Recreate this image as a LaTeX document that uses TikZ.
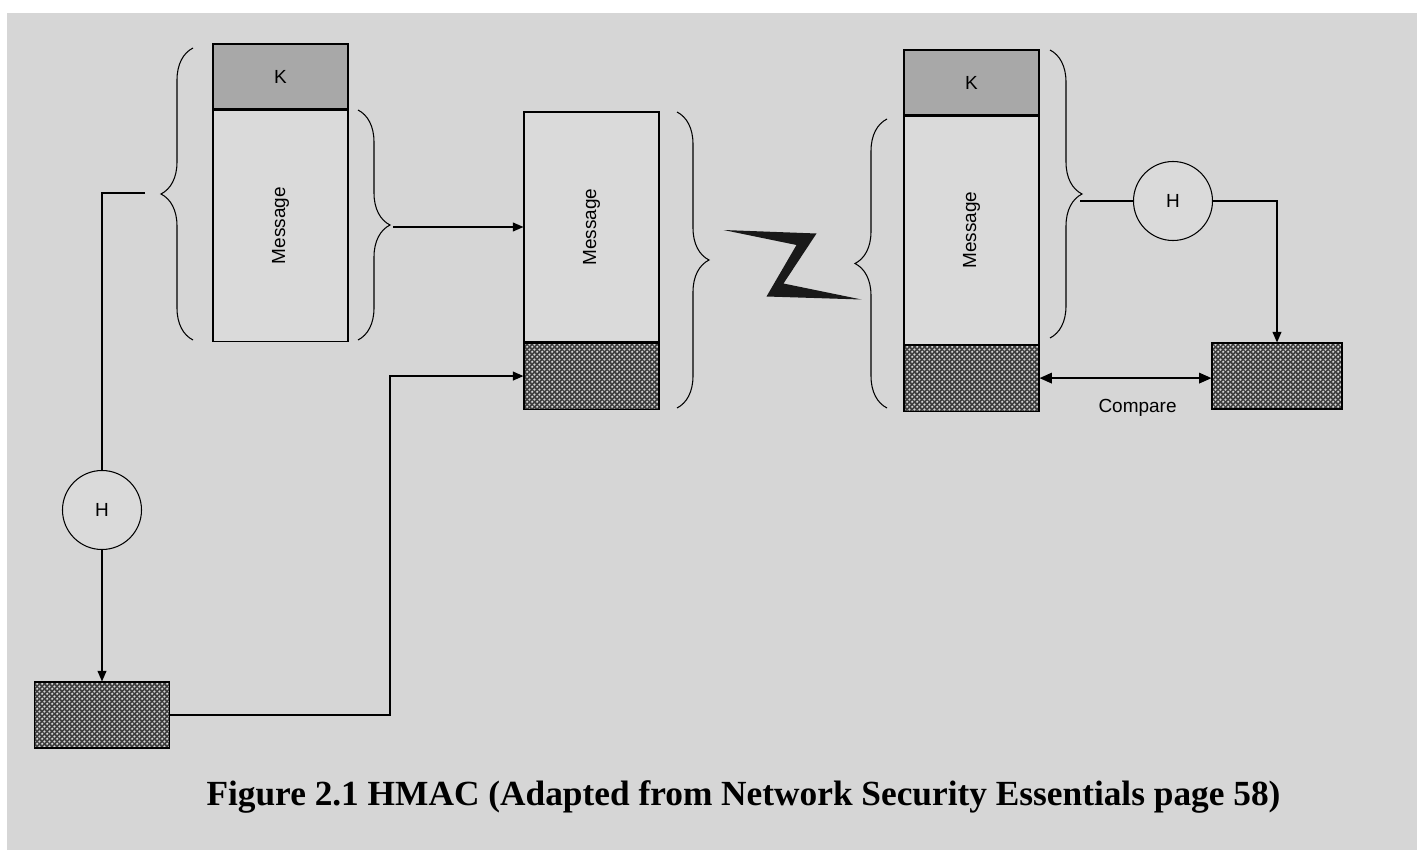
\documentclass[tikz,border=0pt]{standalone}
\usepackage{fontspec}
\setmainfont{Liberation Sans}
\newfontfamily\capfont{Liberation Serif}
\usepackage{xcolor}
\usetikzlibrary{arrows.meta, positioning, patterns, decorations.pathreplacing}

\definecolor{pagegray}{RGB}{214,214,214}
\definecolor{keygray}{RGB}{168,168,168}
\definecolor{msgfill}{RGB}{218,218,218}
\definecolor{macdark}{RGB}{62,62,62}
\definecolor{maclight}{RGB}{212,212,212}
\definecolor{boltblack}{RGB}{25,25,25}

\pgfdeclarepatternformonly{macdots}{\pgfpointorigin}{\pgfqpoint{3pt}{3pt}}{\pgfqpoint{3pt}{3pt}}{%
  \pgfpathcircle{\pgfqpoint{0.75pt}{0.75pt}}{0.8pt}%
  \pgfpathcircle{\pgfqpoint{2.25pt}{2.25pt}}{0.8pt}%
  \pgfusepath{fill}}

\begin{document}
\begin{tikzpicture}[font=\fontsize{10.8}{13}\selectfont]
  \tikzstyle{block} = [draw=black, line width=0.6pt, fill=msgfill, minimum width=2.7cm, inner sep=0pt]
  \tikzstyle{keyblock} = [block, fill=keygray, minimum height=1.3cm]
  \tikzstyle{msgblock} = [block, minimum height=4.6cm]
  \tikzstyle{macblock} = [block, fill=macdark, minimum height=1.32cm, postaction={pattern=macdots, pattern color=maclight, draw=black, line width=0.6pt}]
  \tikzstyle{hash} = [circle, draw=black, line width=0.6pt, fill=msgfill, minimum size=1.58cm, inner sep=0pt]
  \tikzstyle{brc} = [decorate, decoration={brace, amplitude=0.64cm}, line width=0.6pt]
  \tikzstyle{conn} = [line width=0.8pt]
  \tikzstyle{arr} = [conn, -{Triangle[length=6pt, width=5pt]}]
  \tikzstyle{dbl} = [conn, {Triangle[length=7pt, width=6pt]}-{Triangle[length=7pt, width=6pt]}]

  \useasboundingbox (0,0) rectangle (28.34,-17);
  \fill[white] (0,0) rectangle (28.34,-17);
  \fill[pagegray] (0.14,-0.26) rectangle (28.34,-17);

  % sender
  \node[keyblock] (kS) at (5.61,-1.53) {K};
  \node[msgblock, below=0pt of kS, minimum height=4.62cm] (mS) {\rotatebox{90}{Message}};
  \node[hash] (hS) at (2.04,-10.2) {H};
  \node[macblock] (macS) at (2.04,-14.3) {};

  % transmitted
  \node[msgblock] (mT) at (11.83,-4.54) {\rotatebox{90}{Message}};
  \node[macblock, below=0pt of mT] (macT) {};

  % receiver
  \node[keyblock] (kR) at (19.43,-1.65) {K};
  \node[msgblock, below=0pt of kR, minimum height=4.56cm] (mR) {\rotatebox{90}{Message}};
  \node[macblock, below=0pt of mR] (macR) {};
  \node[hash] (hR) at (23.46,-4.02) {H};
  \node[macblock, minimum width=2.6cm] (macC) at (25.54,-7.52) {};

  % braces
  \draw[brc] (3.86,-6.80) -- (3.86,-0.96);
  \draw[brc] (7.16,-2.20) -- (7.16,-6.80);
  \draw[brc] (13.54,-2.24) -- (13.54,-8.16);
  \draw[brc] (17.74,-8.16) -- (17.74,-2.38);
  \draw[brc] (21.0,-1.0) -- (21.0,-6.76);
  \coordinate (tS1) at (2.9,-3.86);
  \coordinate (tS2) at (7.86,-4.54);
  \coordinate (tR2) at (21.6,-4.02);

  % link
  \fill[boltblack] (14.47,-4.6) -- (16.33,-4.67) -- (15.67,-5.67) -- (17.23,-5.99)
    -- (15.33,-5.93) -- (15.93,-4.9) -- cycle;

  \draw[conn] (tS1) -| (hS);
  \draw[arr] (hS) -- (macS);
  \draw[arr] (macS.east) -- ++(4.4,0) |- (macT.west);
  \draw[arr] (tS2) -- (mT.west);
  \draw[conn] (tR2) -- (hR);
  \draw[arr] (hR) -| (macC);
  \draw[dbl] (macR.east) -- node[below=0.3cm, pos=0.57] (cmp) {Compare} (macR.east -| macC.west);

  \node[font=\capfont\bfseries\fontsize{20.1}{24}\selectfont] (cap) at (14.87,-15.94)
    {Figure 2.1 HMAC (Adapted from Network Security Essentials page 58)};
\end{tikzpicture}
\end{document}
